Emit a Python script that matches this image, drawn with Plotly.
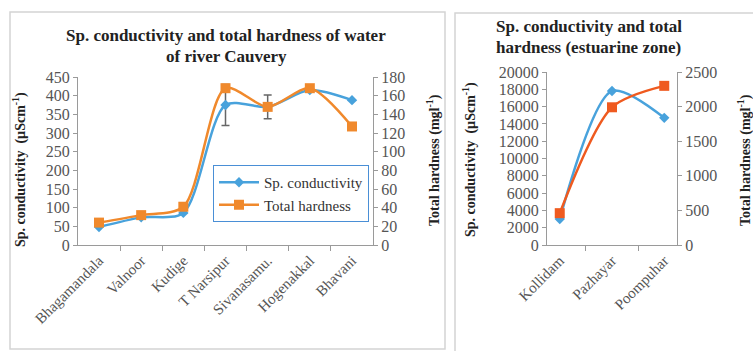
import plotly.graph_objects as go

W, H = 753, 351

# ---- data ----
river_sites = ["Bhagamandala", "Valnoor", "Kudige", "T Narsipur", "Sivanasamu.", "Hogenakkal", "Bhavani"]
river_cond = [48, 74, 86, 375, 370, 415, 388]
river_cond_err = [0, 0, 0, 55, 32, 0, 0]
river_hard = [24, 32, 41, 168, 148, 168, 127]

est_sites = ["Kollidam", "Pazhayar", "Poompuhar"]
est_cond = [3000, 17800, 14700]
est_hard = [460, 1990, 2300]

left_ticks = list(range(0, 451, 50))
right_ticks = list(range(0, 181, 20))
est_left_ticks = list(range(0, 20001, 2000))
est_right_ticks = list(range(0, 2501, 500))

BLUE = "#48A2DC"
ORANGE = "#F0892C"
ORANGE2 = "#EF5A1F"
FONT = "Liberation Serif"
TICKC = "#555555"


def px_x(p):
    return p / W


def px_y(p):
    return 1 - p / H


fig = go.Figure()

fig.add_trace(go.Scatter(
    x=river_sites, y=river_cond, name="Sp. conductivity", mode="lines+markers",
    line=dict(color=BLUE, width=2.5, shape="spline", smoothing=0.8),
    marker=dict(symbol="diamond", size=8, color=BLUE),
    error_y=dict(type="data", array=river_cond_err, color="#666666", thickness=1.5, width=4),
    xaxis="x", yaxis="y"))
fig.add_trace(go.Scatter(
    x=river_sites, y=river_hard, name="Total hardness", mode="lines+markers",
    line=dict(color=ORANGE, width=2.5, shape="spline", smoothing=0.8),
    marker=dict(symbol="square", size=10, color=ORANGE),
    xaxis="x", yaxis="y2"))

fig.add_trace(go.Scatter(
    x=est_sites, y=est_cond, name="Sp. conductivity", mode="lines+markers", showlegend=False,
    line=dict(color=BLUE, width=2.5, shape="spline", smoothing=0.8),
    marker=dict(symbol="diamond", size=8, color=BLUE),
    xaxis="x2", yaxis="y3"))
fig.add_trace(go.Scatter(
    x=est_sites, y=est_hard, name="Total hardness", mode="lines+markers", showlegend=False,
    line=dict(color=ORANGE2, width=2.5, shape="spline", smoothing=0.8),
    marker=dict(symbol="square", size=10, color=ORANGE2),
    xaxis="x2", yaxis="y4"))

dom_y_left = [px_y(245), px_y(77)]
dom_y_right = [px_y(245), px_y(72)]

axfont = dict(family=FONT, size=16, color=TICKC)
common_y = dict(showgrid=False, zeroline=False, showline=True, linecolor="#9a9a9a",
                ticks="outside", ticklen=4, tickcolor="#9a9a9a", tickfont=axfont,
                automargin=False, tickformat="d")
common_x = dict(showgrid=False, zeroline=False, showline=True, linecolor="#9a9a9a",
                ticks="outside", ticklen=5, tickcolor="#9a9a9a", tickson="boundaries",
                tickangle=-45, tickfont=dict(family=FONT, size=15, color=TICKC),
                type="category", automargin=False)

fig.update_layout(
    width=W, height=H, margin=dict(l=0, r=0, t=0, b=0, autoexpand=False),
    paper_bgcolor="white", plot_bgcolor="white",
    showlegend=True,
    legend=dict(x=px_x(213), y=px_y(165), xanchor="left", yanchor="top",
                bordercolor="#4A8FD6", borderwidth=1, bgcolor="white",
                font=dict(family=FONT, size=15, color="#333333"),
                tracegroupgap=2, itemwidth=40),
    xaxis=dict(domain=[px_x(78), px_x(373)], anchor="y", **common_x),
    yaxis=dict(domain=dom_y_left, anchor="x", range=[0, 450], tickvals=left_ticks, **common_y),
    yaxis2=dict(domain=dom_y_left, anchor="x", overlaying="y", side="right",
                range=[0, 180], tickvals=right_ticks, **common_y),
    xaxis2=dict(domain=[px_x(547), px_x(677)], anchor="y3", **common_x),
    yaxis3=dict(domain=dom_y_right, anchor="x2", range=[0, 20000], tickvals=est_left_ticks, **common_y),
    yaxis4=dict(domain=dom_y_right, anchor="x2", overlaying="y3", side="right",
                range=[0, 2500], tickvals=est_right_ticks, **common_y),
)

# panel borders
fig.add_shape(type="rect", xref="paper", yref="paper",
              x0=px_x(10), x1=px_x(445), y0=px_y(349), y1=px_y(12),
              line=dict(color="#d4d4d4", width=1.5))
fig.add_shape(type="rect", xref="paper", yref="paper",
              x0=px_x(455), x1=px_x(760), y0=px_y(360), y1=px_y(13),
              line=dict(color="#d4d4d4", width=1.5))

tfont = dict(family=FONT, size=17, color="#222222")
yt_font = dict(family=FONT, size=14, color="#222222")
ann = [
    dict(text="<b>Sp. conductivity and total hardness of water</b>", x=px_x(226), y=px_y(35),
         xanchor="center", yanchor="middle", font=tfont),
    dict(text="<b>of river Cauvery</b>", x=px_x(226), y=px_y(57),
         xanchor="center", yanchor="middle", font=tfont),
    dict(text="<b>Sp. conductivity and total</b>", x=px_x(494), y=px_y(27),
         xanchor="left", yanchor="middle", font=tfont),
    dict(text="<b>hardness (estuarine zone)</b>", x=px_x(494), y=px_y(48),
         xanchor="left", yanchor="middle", font=tfont),
    dict(text="<b>Sp. conductivity  (µScm<sup>-1</sup>)</b>", x=px_x(19), y=px_y(170),
         textangle=-90, xanchor="center", yanchor="middle", font=yt_font),
    dict(text="<b>Total hardness (mgl<sup>-1</sup>)</b>", x=px_x(433), y=px_y(160),
         textangle=-90, xanchor="center", yanchor="middle", font=yt_font),
    dict(text="<b>Sp. conductivity  (µScm<sup>-1</sup>)</b>", x=px_x(469), y=px_y(160),
         textangle=-90, xanchor="center", yanchor="middle", font=yt_font),
    dict(text="<b>Total hardness (mgl<sup>-1</sup>)</b>", x=px_x(744), y=px_y(160),
         textangle=-90, xanchor="center", yanchor="middle", font=yt_font),
]
for a in ann:
    a.update(xref="paper", yref="paper", showarrow=False)
    fig.add_annotation(**a)

fig.write_html("out.html")
